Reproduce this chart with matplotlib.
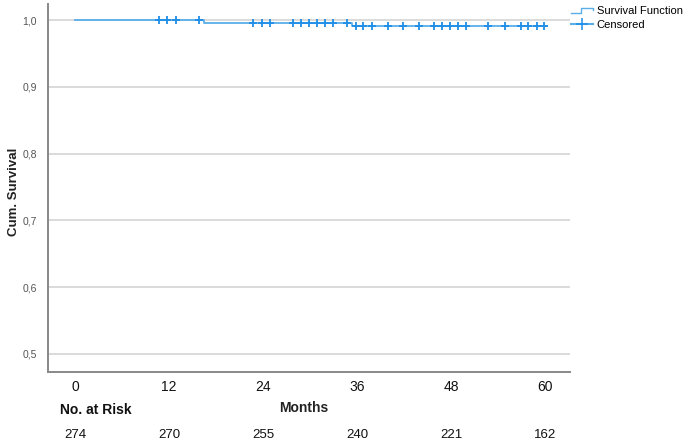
import matplotlib.pyplot as plt
from matplotlib.lines import Line2D
from matplotlib.legend_handler import HandlerBase
import numpy as np

plt.rcParams['font.family'] = ['Liberation Sans', 'DejaVu Sans']

# event times (months) and survival just after each event
event_times = [0, 16.5, 35.4]
survival = [1.0, 0.9962, 0.9915]
end_time = 60.2

# censored observations (months)
censored_times = [10.7, 11.8, 12.9, 15.8,
                  22.7, 23.9, 24.9, 27.8, 28.9, 29.9, 30.9, 31.9, 33.0, 34.7,
                  35.9, 36.8, 37.9, 40.0, 41.9, 43.9, 45.8, 46.9, 47.9, 48.9,
                  49.9, 52.7, 54.9, 57.0, 57.9, 59.0, 59.9]

risk_months = [0, 12, 24, 36, 48, 60]
at_risk = [274, 270, 255, 240, 221, 162]
y_ticks = [0.5, 0.6, 0.7, 0.8, 0.9, 1.0]

line_color = '#5aaee8'
mark_color = '#1f8ee6'


class StepHandler(HandlerBase):
    def create_artists(self, legend, orig_handle, xdescent, ydescent,
                       width, height, fontsize, trans):
        x0 = -xdescent
        yl = -ydescent + height * 0.1
        yh = -ydescent + height * 0.8
        xs = [x0, x0 + width * 0.45, x0 + width * 0.45, x0 + width, x0 + width]
        ys = [yl, yl, yh, yh, yh - height * 0.35]
        ln = Line2D(xs, ys, color=line_color, lw=1.0, transform=trans)
        return [ln]


fig = plt.figure(figsize=(6.88, 4.42), dpi=100)
ax = fig.add_axes([0.0698, 0.1584, 0.7587, 0.8326])

# survival curve
xs = event_times + [end_time]
ys = survival + [survival[-1]]
ax.step(xs, ys, where='post', color=line_color, lw=1.3, zorder=3)

# censored marks at current survival level
cens_y = [survival[np.searchsorted(event_times, t, side='right') - 1] for t in censored_times]
ax.plot(censored_times, cens_y, linestyle='none', marker='+', markersize=6,
        markeredgewidth=1.3, color=mark_color, zorder=4)

ax.set_xlim(-3.45, 63.2)
ax.set_ylim(0.473, 1.024)
ax.set_xticks(risk_months)
ax.set_yticks(y_ticks)
ax.set_yticklabels([f'{v:.1f}'.replace('.', ',') for v in y_ticks])
ax.tick_params(axis='y', length=0, labelsize=7.5, labelcolor='#555555', pad=8)
ax.tick_params(axis='x', length=0, labelsize=10, labelcolor='#111111', pad=6)
ax.grid(axis='y', color='#d4d4d4', lw=1.2)
ax.set_axisbelow(True)
for s in ['top', 'right']:
    ax.spines[s].set_visible(False)
for s in ['left', 'bottom']:
    ax.spines[s].set_color('#888888')
    ax.spines[s].set_linewidth(1.4)

ax.set_ylabel('Cum. Survival', fontsize=9.5, fontweight='bold', color='#222222')
ax.yaxis.set_label_coords(-0.054, 0.49)
ax.set_xlabel('Months', fontsize=10, fontweight='bold', color='#222222')
ax.xaxis.set_label_coords(0.49, -0.08)

# numbers at risk
tr = ax.get_xaxis_transform()
ax.text(-1.9, -0.103, 'No. at Risk', transform=tr, fontsize=10, fontweight='bold',
        ha='left', va='center', color='#111111')
for m, n in zip(risk_months, at_risk):
    ax.text(m, -0.172, str(n), transform=tr, fontsize=9.5, ha='center', va='center',
            color='#111111')

# legend
h1 = Line2D([], [], color=line_color)
h2 = Line2D([], [], color=line_color, marker='+', markersize=9, markeredgecolor=mark_color,
            markeredgewidth=1.1)
fig.legend([h1, h2], ['Survival Function', 'Censored'],
           handler_map={h1: StepHandler()},
           loc='upper left', bbox_to_anchor=(0.826, 0.993), frameon=False,
           fontsize=8, handlelength=2.0, handletextpad=0.3, labelspacing=0.35,
           borderaxespad=0, borderpad=0.25)

fig.savefig('out.png', dpi=100)
